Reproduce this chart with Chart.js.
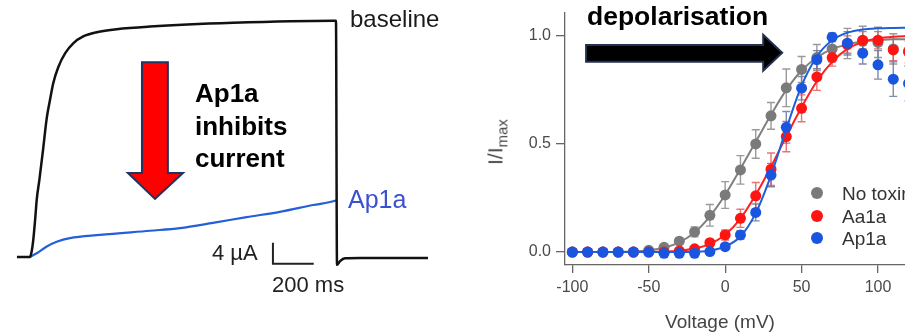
<!DOCTYPE html>
<html>
<head>
<meta charset="utf-8">
<script src="https://cdn.jsdelivr.net/npm/chart.js@4.4.1/dist/chart.umd.min.js"></script>
<style>
  html, body { margin: 0; padding: 0; background: #fff; overflow: hidden; width: 905px; height: 333px; }
  #wrap { position: relative; width: 905px; height: 333px; overflow: hidden; font-family: "Liberation Sans", Arial, sans-serif; }
  canvas { position: absolute; top: 0; }
  .t { position: absolute; white-space: nowrap; line-height: 1; }
  .dot { position: absolute; width: 12px; height: 12px; border-radius: 50%; }
</style>
</head>
<body>
<div id="wrap">
  <canvas id="traces" width="450" height="333" style="left:0"></canvas>
  <canvas id="gv" width="461" height="333" style="left:450px"></canvas>

  <!-- left panel labels -->
  <div class="t" style="left:350px;top:7px;font-size:24px;color:#1a1a1a">baseline</div>
  <div class="t" style="left:348px;top:187px;font-size:25px;color:#3a50d0">Ap1a</div>
  <div class="t" style="left:195px;top:77px;font-size:26px;font-weight:bold;line-height:32.5px;color:#000;white-space:normal;width:130px">Ap1a<br>inhibits<br>current</div>
  <div class="t" style="left:212px;top:242px;font-size:22px;color:#222">4 µA</div>
  <div class="t" style="left:272px;top:274px;font-size:22px;color:#222">200 ms</div>

  <!-- right panel labels -->
  <div class="t" style="left:587px;top:3px;font-size:26.5px;font-weight:bold;color:#000">depolarisation</div>
  <div class="t" style="left:720px;top:312px;font-size:19px;color:#444;transform:translateX(-50%)">Voltage (mV)</div>
  <div class="t" style="left:497px;top:142px;font-size:21px;color:#4a4a4a;transform:translate(-50%,-50%) rotate(-90deg)">I/I<sub style="font-size:15px">max</sub></div>

  <span class="dot" style="left:811px;top:187px;background:#7a7a7a"></span>
  <span class="dot" style="left:811px;top:210px;background:#ff1414"></span>
  <span class="dot" style="left:811px;top:232px;background:#1a55e0"></span>
  <div class="t" style="left:842px;top:184px;font-size:19px;color:#333">No toxin</div>
  <div class="t" style="left:842px;top:207px;font-size:19px;color:#333">Aa1a</div>
  <div class="t" style="left:842px;top:229px;font-size:19px;color:#333">Ap1a</div>
</div>

<script>
(() => {
    "use strict";

    // current traces (time in ms, current in µA)
    const blackT = [-64, -10, 0, 8, 16, 25, 33, 46, 64, 82, 98, 114, 139, 172, 212, 261, 327, 425, 588, 995, 1485, 1500, 1505, 1520, 1544, 1618, 1951];
    const blackI = [0, 0, 0, 1.0, 3.2, 7.0, 10.9, 14.7, 20.4, 26.4, 29.9, 33.1, 36.2, 38.8, 40.7, 42.0, 42.8, 43.4, 43.9, 44.6, 45.0, 45.0, -1.5, -0.8, -0.25, -0.2, -0.2];
    const blueT = [0, 33, 82, 131, 196, 343, 588, 735, 897, 1062, 1225, 1387, 1495, 1500];
    const blueI = [0, 0.7, 2.0, 2.9, 3.6, 4.2, 5.0, 5.5, 6.5, 7.6, 8.6, 9.9, 10.7, 10.8];
    // scale bar: 4 µA, 200 ms
    const barT = [1191, 1191, 1391];
    const barI = [2.7, -1.3, -1.3];

    // G-V data
    const voltage = [-100, -90, -80, -70, -60, -50, -40, -30, -20, -10, 0, 10, 20, 30, 40, 50, 60, 70, 80, 90, 100, 110, 120];
    const noToxin = [0, 0, 0, 0, 0, 0.008, 0.022, 0.05, 0.093, 0.17, 0.264, 0.38, 0.50, 0.63, 0.76, 0.845, 0.90, 0.94, 0.965, 0.975, 0.97, 0.94, 0.93];
    const noToxinErr = [0, 0, 0, 0, 0, 0.005, 0.01, 0.014, 0.023, 0.05, 0.062, 0.066, 0.066, 0.062, 0.087, 0.06, 0.06, 0.06, 0.07, 0.07, 0.07, 0.07, 0.07];
    const aa1a = [0, 0, 0, 0, 0, 0, 0, 0.005, 0.015, 0.043, 0.079, 0.156, 0.26, 0.383, 0.534, 0.665, 0.81, 0.90, 0.96, 0.98, 0.98, 0.935, 0.925];
    const aa1aErr = [0, 0, 0, 0, 0, 0, 0, 0.005, 0.01, 0.015, 0.023, 0.042, 0.062, 0.075, 0.07, 0.062, 0.062, 0.04, 0.04, 0.04, 0.04, 0.05, 0.05];
    const ap1a = [0, 0, 0, 0, 0, 0, -0.006, -0.006, -0.006, 0.002, 0.025, 0.079, 0.183, 0.356, 0.577, 0.758, 0.89, 0.994, 0.966, 0.92, 0.866, 0.80, 0.78];
    const ap1aErr = [0, 0, 0, 0, 0, 0, 0, 0, 0, 0.005, 0.01, 0.02, 0.039, 0.054, 0.073, 0.054, 0.042, 0.02, 0.054, 0.05, 0.066, 0.08, 0.08];
    // Boltzmann fits
    const noToxinFit = [0, 0, 0, 0, 0.002, 0.008, 0.02, 0.045, 0.09, 0.165, 0.265, 0.385, 0.51, 0.635, 0.75, 0.84, 0.9, 0.94, 0.96, 0.975, 0.98, 0.985, 0.985];
    const aa1aFit = [0, 0, 0, 0, 0, 0, 0.002, 0.006, 0.016, 0.038, 0.08, 0.155, 0.265, 0.395, 0.535, 0.67, 0.79, 0.88, 0.94, 0.972, 0.988, 0.996, 1.0];
    const ap1aFit = [0, 0, 0, 0, 0, 0, 0, 0, 0.001, 0.006, 0.026, 0.072, 0.18, 0.355, 0.57, 0.77, 0.905, 0.98, 1.015, 1.03, 1.035, 1.037, 1.038];
    const vTicks = [-100, -50, 0, 50, 100];
    const iTicks = [0, 0.5, 1.0];

    const pairs = (xs, ys) => xs.map((x, i) => ({ x, y: ys[i] }));

    Chart.defaults.font.family = '"Liberation Sans", Arial, sans-serif';

    // draws filled arrow polygons given in data coordinates
    const arrows = {
        id: "arrows",
        afterDatasetsDraw(chart, args, opts) {
            const { ctx, scales } = chart;
            (opts.items || []).forEach((a) => {
                ctx.save();
                ctx.beginPath();
                a.shape.forEach(([vx, vy], i) => {
                    const px = scales.x.getPixelForValue(vx);
                    const py = scales.y.getPixelForValue(vy);
                    if (i === 0) ctx.moveTo(px, py); else ctx.lineTo(px, py);
                });
                ctx.closePath();
                ctx.fillStyle = a.fill;
                ctx.fill();
                ctx.lineWidth = a.lineWidth;
                ctx.strokeStyle = a.stroke;
                ctx.lineJoin = "miter";
                ctx.stroke();
                ctx.restore();
            });
        }
    };

    // vertical error bars from dataset.errors
    const errorBars = {
        id: "errorBars",
        beforeDatasetsDraw(chart) {
            const { ctx, scales } = chart;
            chart.data.datasets.forEach((ds, i) => {
                if (!ds.errors) return;
                const meta = chart.getDatasetMeta(i);
                ctx.save();
                ctx.strokeStyle = ds.errorColor;
                ctx.lineWidth = 1.4;
                meta.data.forEach((pt, j) => {
                    const e = ds.errors[j];
                    if (!e) return;
                    const v = ds.data[j].y;
                    const top = scales.y.getPixelForValue(v + e);
                    const bot = scales.y.getPixelForValue(v - e);
                    ctx.beginPath();
                    ctx.moveTo(pt.x, top); ctx.lineTo(pt.x, bot);
                    ctx.moveTo(pt.x - 4, top); ctx.lineTo(pt.x + 4, top);
                    ctx.moveTo(pt.x - 4, bot); ctx.lineTo(pt.x + 4, bot);
                    ctx.stroke();
                });
                ctx.restore();
            });
        }
    };

    // eslint-disable-next-line no-unused-vars
    const traces = new Chart(document.getElementById("traces"), {
        type: "line",
        data: {
            datasets: [
                {
                    data: pairs(barT, barI),
                    borderColor: "#222",
                    borderWidth: 2,
                    pointRadius: 0,
                    order: 0
                },
                {
                    data: pairs(blackT, blackI),
                    borderColor: "#111",
                    borderWidth: 2.5,
                    pointRadius: 0,
                    cubicInterpolationMode: "monotone",
                    borderJoinStyle: "round",
                    order: 1
                },
                {
                    data: pairs(blueT, blueI),
                    borderColor: "#2360d8",
                    borderWidth: 2.2,
                    pointRadius: 0,
                    cubicInterpolationMode: "monotone",
                    order: 2
                }
            ]
        },
        options: {
            responsive: false,
            animation: false,
            events: [],
            layout: { padding: 0 },
            plugins: {
                legend: { display: false },
                tooltip: { enabled: false },
                arrows: {
                    items: [{
                        shape: [[549, 37.1], [676, 37.1], [676, 16.0], [750, 16.0], [613, 11.05], [480, 16.0], [549, 16.0]],
                        fill: "#ff0000",
                        stroke: "#1f3560",
                        lineWidth: 2
                    }]
                }
            },
            scales: {
                x: { type: "linear", display: false, min: -147, max: 2059 },
                y: { type: "linear", display: false, min: -14.48, max: 48.95 }
            }
        },
        plugins: [arrows]
    });

    const axisColor = "#666";
    const tickFont = { size: 16 };

    // eslint-disable-next-line no-unused-vars
    const gv = new Chart(document.getElementById("gv"), {
        type: "line",
        data: {
            datasets: [
                { data: pairs(voltage, ap1a), showLine: false, pointRadius: 5.5, pointBorderWidth: 0, pointBackgroundColor: "#1a55e0", errors: ap1aErr, errorColor: "rgba(80,100,150,0.75)", clip: false, order: 0 },
                { data: pairs(voltage, ap1aFit), borderColor: "#1f5fd8", borderWidth: 2, pointRadius: 0, cubicInterpolationMode: "monotone", clip: false, order: 1 },
                { data: pairs(voltage, aa1a), showLine: false, pointRadius: 5.5, pointBorderWidth: 0, pointBackgroundColor: "#ff1414", errors: aa1aErr, errorColor: "rgba(220,70,70,0.75)", clip: false, order: 2 },
                { data: pairs(voltage, aa1aFit), borderColor: "#ff2020", borderWidth: 2, pointRadius: 0, cubicInterpolationMode: "monotone", clip: false, order: 3 },
                { data: pairs(voltage, noToxin), showLine: false, pointRadius: 5.5, pointBorderWidth: 0, pointBackgroundColor: "#7a7a7a", errors: noToxinErr, errorColor: "rgba(120,120,120,0.75)", clip: false, order: 4 },
                { data: pairs(voltage, noToxinFit), borderColor: "#808080", borderWidth: 2, pointRadius: 0, cubicInterpolationMode: "monotone", clip: false, order: 5 }
            ]
        },
        options: {
            responsive: false,
            animation: false,
            events: [],
            layout: { padding: { top: 13, left: 0, right: 0, bottom: 0 } },
            plugins: {
                legend: { display: false },
                tooltip: { enabled: false },
                arrows: {
                    items: [{
                        shape: [[-91, 0.958], [24.9, 0.958], [24.9, 1.005], [37.3, 0.922], [24.9, 0.839], [24.9, 0.881], [-91, 0.881]],
                        fill: "#000",
                        stroke: "#23304f",
                        lineWidth: 2
                    }]
                }
            },
            scales: {
                x: {
                    type: "linear",
                    min: -104.8,
                    max: 118,
                    afterBuildTicks: (s) => { s.ticks = vTicks.map((v) => ({ value: v })); },
                    afterFit: (s) => { s.height = 68; s.paddingLeft = 0; s.paddingRight = 0; },
                    border: { display: true, color: axisColor, width: 1.3 },
                    grid: { drawOnChartArea: false, drawTicks: true, tickLength: 8, color: axisColor, lineWidth: 1.3 },
                    ticks: { color: "#4a4a4a", font: tickFont, padding: 5, maxRotation: 0, autoSkip: false }
                },
                y: {
                    type: "linear",
                    min: -0.06,
                    max: 1.106,
                    afterBuildTicks: (s) => { s.ticks = iTicks.map((v) => ({ value: v })); },
                    afterFit: (s) => { s.width = 115; s.paddingTop = 0; s.paddingBottom = 0; },
                    border: { display: true, color: axisColor, width: 1.3 },
                    grid: { drawOnChartArea: false, drawTicks: true, tickLength: 9, color: axisColor, lineWidth: 1.3 },
                    ticks: { color: "#4a4a4a", font: tickFont, padding: 5, callback: (v) => v.toFixed(1) }
                }
            }
        },
        plugins: [errorBars, arrows]
    });
})();
</script>
</body>
</html>
